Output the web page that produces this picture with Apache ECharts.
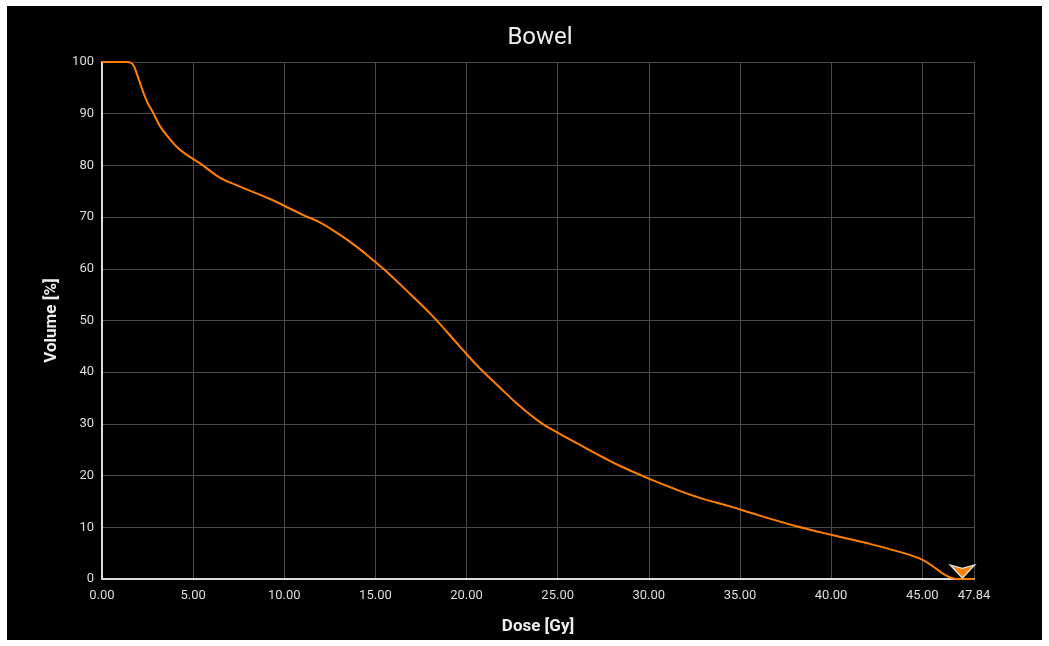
<!DOCTYPE html>
<html>
<head>
<meta charset="utf-8">
<script src="https://cdn.jsdelivr.net/npm/echarts@6/dist/echarts.min.js"></script>
<style>
  html, body { margin: 0; padding: 0; background: #ffffff; width: 1049px; height: 646px; overflow: hidden; }
  #chart { position: absolute; left: 7px; top: 6px; width: 1035px; height: 634px; background: #000000; }
</style>
</head>
<body>
<div id="chart"></div>
<script>
const chartTitle = 'Bowel';
const xAxisName = 'Dose [Gy]';
const yAxisName = 'Volume [%]';
const doseMax = 47.84;
const doseValues = [0, 1.4, 1.6, 1.75, 2.0, 2.45, 2.82, 3.18, 3.6, 4.28, 5.38, 6.48, 7.57, 9.22, 10.0, 11.1, 12.0, 13.0, 14.0, 15.0, 15.5, 16.5, 18.1, 19.65, 20.6, 21.84, 22.8, 24.0, 25.04, 26.5, 27.51, 28.4, 30.0, 31.5, 32.8, 34.6, 35.57, 38.0, 40.05, 42.0, 43.8, 45.02, 45.8, 46.2, 46.54, 46.9, 47.84];
const volumeValues = [100, 100, 99.8, 99.2, 96.8, 92.5, 90.1, 87.6, 85.6, 83.0, 80.4, 77.6, 75.9, 73.5, 72.2, 70.3, 68.9, 66.7, 64.2, 61.3, 59.8, 56.5, 51.0, 44.9, 41.2, 37.0, 33.8, 30.4, 28.2, 25.4, 23.5, 21.9, 19.4, 17.3, 15.7, 13.9, 12.8, 10.3, 8.5, 6.9, 5.2, 3.7, 1.9, 0.9, 0.3, 0, 0];
const markerPoint = [47.2, 0];

const data = doseValues.map((d, i) => [d, volumeValues[i]]);
const chart = echarts.init(document.getElementById('chart'));
const font = 'Roboto, "Noto Sans", sans-serif';
chart.setOption({
  backgroundColor: '#000000',
  animation: false,
  title: {
    text: chartTitle, left: 528, top: 15, textAlign: 'center',
    textStyle: { color: '#eeeeee', fontSize: 24, fontWeight: 'normal', fontFamily: font }
  },
  grid: { left: 95, top: 56, width: 872, height: 521 },
  xAxis: {
    type: 'value', min: 0, max: doseMax, interval: 5,
    name: xAxisName, nameLocation: 'middle', nameGap: 39,
    nameTextStyle: { color: '#eeeeee', fontSize: 17, fontWeight: 'bold', fontFamily: font },
    axisLine: { show: true, lineStyle: { color: '#dddddd', width: 2 } },
    axisTick: { show: false },
    axisLabel: { color: '#dddddd', fontSize: 13, fontFamily: font, margin: 10, formatter: v => v.toFixed(2), showMaxLabel: true },
    splitLine: { show: true, lineStyle: { color: '#4a4a4a', width: 1 } }
  },
  yAxis: {
    type: 'value', min: 0, max: 100, interval: 10,
    name: yAxisName, nameLocation: 'middle', nameGap: 42,
    nameTextStyle: { color: '#eeeeee', fontSize: 17, fontWeight: 'bold', fontFamily: font },
    axisLine: { show: true, lineStyle: { color: '#dddddd', width: 2 } },
    axisTick: { show: false },
    axisLabel: { color: '#dddddd', fontSize: 13, fontFamily: font, margin: 8 },
    splitLine: { show: true, lineStyle: { color: '#4a4a4a', width: 1 } }
  },
  series: [{
    type: 'line', data: data, smooth: 0.4, showSymbol: false,
    lineStyle: { color: '#ff8000', width: 2 },
    itemStyle: { color: '#ff8000' },
    markPoint: {
      symbol: 'arrow', symbolRotate: 180, symbolSize: [18, 13], symbolOffset: [0, -1],
      itemStyle: { color: '#ff8000', borderColor: '#dddddd', borderWidth: 1.5 },
      label: { show: false },
      data: [{ coord: markerPoint }]
    }
  }]
});
</script>
</body>
</html>
